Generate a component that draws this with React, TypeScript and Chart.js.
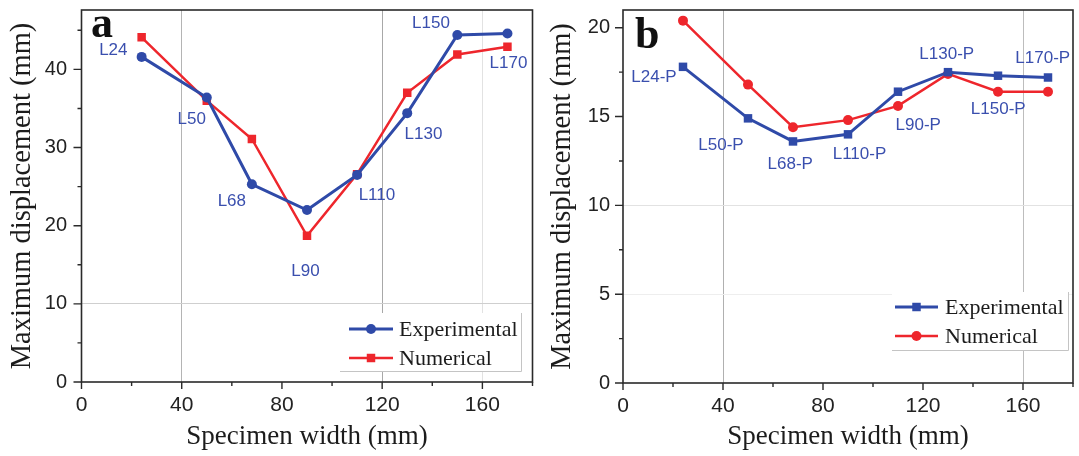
import React, { useEffect, useRef } from 'react';
import { Chart, registerables } from 'chart.js';

Chart.register(...registerables);

// ---------- data ----------
const widths = [24, 50, 68, 90, 110, 130, 150, 170];

const aExperimental = [41.6, 36.4, 25.3, 22.0, 26.5, 34.4, 44.4, 44.6];
const aNumerical = [44.1, 36.0, 31.1, 18.7, 26.6, 37.0, 41.9, 42.9];
const aLabels = ['L24', 'L50', 'L68', 'L90', 'L110', 'L130', 'L150', 'L170'];
const aLabelX = [12.7, 44.0, 60.0, 89.4, 117.9, 136.5, 139.5, 170.4];
const aLabelY = [42.5, 33.6, 23.1, 14.2, 23.9, 31.7, 45.9, 40.8];

const bExperimental = [17.8, 14.9, 13.6, 14.0, 16.4, 17.5, 17.3, 17.2];
const bNumerical = [20.4, 16.8, 14.4, 14.8, 15.6, 17.4, 16.4, 16.4];
const bLabels = ['L24-P', 'L50-P', 'L68-P', 'L110-P', 'L90-P', 'L130-P', 'L150-P', 'L170-P'];
const bLabelX = [12.4, 39.2, 66.9, 94.6, 118.1, 129.5, 150.1, 167.9];
const bLabelY = [17.2, 13.4, 12.3, 12.9, 14.5, 18.5, 15.4, 18.3];

const xTicksMajor = 40;
const xTicksMinor = 20;

// ---------- styles ----------
const BLUE = '#2f4aa8';
const RED = '#ee262c';
const LABEL_COLOR = '#3a4fae';
const TEXT = '#1c1c1c';
const SANS = '"Liberation Sans", Arial, sans-serif';
const SERIF = '"Liberation Serif", "Times New Roman", serif';

type Spec = {
  width: number;
  exp: number[];
  num: number[];
  expStyle: string;
  numStyle: string;
  labels: string[];
  labelX: number[];
  labelY: number[];
  yMax: number;
  yMajor: number;
  yMinor: number;
  yWidth: number;
  xHeight: number;
  rightPad: number;
  yTickPad: number;
  letter: string;
  letterX: number;
  letterY: number;
  xGrid: Record<number, string>;
  yGrid: Record<number, string>;
  legend: { x: number; y: number; w: number; h: number; lx0: number; lx1: number; tx: number; rows: number[] };
};

const near = (v: number, m: number) => Math.abs(v / m - Math.round(v / m)) < 1e-6;

const panelPlugin = {
  id: 'panel',
  afterDatasetsDraw(chart: any, _a: any, opts: any) {
    const s: Spec = opts.spec;
    const { ctx, scales } = chart;
    const x = scales.x;
    const y = scales.y;
    ctx.save();
    // point labels
    ctx.font = `17px ${SANS}`;
    ctx.fillStyle = LABEL_COLOR;
    ctx.textAlign = 'center';
    ctx.textBaseline = 'middle';
    s.labels.forEach((t, i) => {
      ctx.fillText(t, x.getPixelForValue(s.labelX[i]), y.getPixelForValue(s.labelY[i]));
    });
    // legend
    const L = s.legend;
    ctx.fillStyle = '#ffffff';
    ctx.fillRect(L.x, L.y, L.w, L.h);
    ctx.strokeStyle = '#c4c4c4';
    ctx.lineWidth = 1;
    ctx.beginPath();
    ctx.moveTo(L.x, L.y + L.h + 0.5);
    ctx.lineTo(L.x + L.w + 0.5, L.y + L.h + 0.5);
    ctx.lineTo(L.x + L.w + 0.5, L.y);
    ctx.stroke();
    chart.data.datasets.forEach((ds: any, i: number) => {
      const ry = L.rows[i];
      ctx.strokeStyle = ds.borderColor;
      ctx.lineWidth = ds.borderWidth;
      ctx.beginPath();
      ctx.moveTo(L.lx0, ry);
      ctx.lineTo(L.lx1, ry);
      ctx.stroke();
      const mx = (L.lx0 + L.lx1) / 2;
      ctx.fillStyle = ds.borderColor;
      ctx.beginPath();
      if (ds.pointStyle === 'rect') {
        const h = ds.pointRadius * Math.SQRT1_2;
        ctx.rect(mx - h, ry - h, 2 * h, 2 * h);
      } else {
        ctx.arc(mx, ry, ds.pointRadius, 0, Math.PI * 2);
      }
      ctx.fill();
      ctx.fillStyle = TEXT;
      ctx.font = `22px ${SERIF}`;
      ctx.textAlign = 'left';
      ctx.textBaseline = 'middle';
      ctx.fillText(ds.label, L.tx, ry + 1);
    });
    // panel letter
    ctx.fillStyle = '#111';
    ctx.font = `bold 44px ${SERIF}`;
    ctx.textAlign = 'left';
    ctx.textBaseline = 'alphabetic';
    ctx.fillText(s.letter, s.letterX, s.letterY);
    ctx.restore();
  },
  afterDraw(chart: any, _a: any, opts: any) {
    const s: Spec = opts.spec;
    const { ctx, chartArea: ca, scales } = chart;
    ctx.save();
    ctx.strokeStyle = '#2a2a2a';
    ctx.lineWidth = 1.4;
    // tick marks
    ctx.beginPath();
    scales.x.ticks.forEach((t: any) => {
      const v = t.value;
      let len = 0;
      if (near(v, xTicksMajor)) len = 7;
      else if (near(v, xTicksMinor)) len = 4;
      if (!len) return;
      const px = scales.x.getPixelForValue(v);
      ctx.moveTo(px, ca.bottom);
      ctx.lineTo(px, ca.bottom + len);
    });
    scales.y.ticks.forEach((t: any) => {
      const v = t.value;
      let len = 0;
      if (near(v, s.yMajor)) len = 8;
      else if (near(v, s.yMinor)) len = 4;
      if (!len) return;
      const py = scales.y.getPixelForValue(v);
      ctx.moveTo(ca.left - len, py);
      ctx.lineTo(ca.left, py);
    });
    ctx.stroke();
    // frame
    ctx.lineWidth = 1.6;
    ctx.strokeRect(ca.left, ca.top, ca.right - ca.left, ca.bottom - ca.top);
    ctx.restore();
  },
};

function buildConfig(s: Spec): any {
  const pts = (vals: number[]) => widths.map((w, i) => ({ x: w, y: vals[i] }));
  const mk = (label: string, vals: number[], color: string, style: string, lw: number) => ({
    label,
    data: pts(vals),
    borderColor: color,
    backgroundColor: color,
    borderWidth: lw,
    pointStyle: style,
    pointRadius: style === 'rect' ? 6 : 5,
    pointBorderWidth: 0,
    pointHoverRadius: style === 'rect' ? 6 : 5,
    tension: 0,
  });
  return {
    type: 'line',
    data: {
      datasets: [
        mk('Experimental', s.exp, BLUE, s.expStyle, 3),
        mk('Numerical', s.num, RED, s.numStyle, 2.5),
      ],
    },
    plugins: [panelPlugin],
    options: {
      responsive: false,
      animation: false,
      devicePixelRatio: 1,
      events: [],
      layout: { padding: { left: 0, right: s.rightPad, top: 10, bottom: 0 } },
      plugins: {
        legend: { display: false },
        tooltip: { enabled: false },
        panel: { spec: s },
      },
      scales: {
        x: {
          type: 'linear',
          min: 0,
          max: 180,
          afterFit: (sc: any) => {
            sc.height = s.xHeight;
            sc.paddingLeft = 0;
            sc.paddingRight = 0;
          },
          border: { display: false },
          grid: {
            drawTicks: false,
            lineWidth: 1,
            color: (c: any) => (c.tick && s.xGrid[c.tick.value]) || 'rgba(0,0,0,0)',
          },
          ticks: {
            stepSize: xTicksMinor,
            autoSkip: false,
            includeBounds: false,
            maxRotation: 0,
            padding: 11,
            color: '#222',
            font: { family: SANS, size: 21 },
            callback: (v: number) => (near(v, xTicksMajor) ? String(v) : ''),
          },
          title: {
            display: true,
            text: 'Specimen width (mm)',
            color: TEXT,
            font: { family: SERIF, size: 27, lineHeight: 1.2 },
            padding: { top: 0, bottom: 3 },
          },
        },
        y: {
          type: 'linear',
          min: 0,
          max: s.yMax,
          afterFit: (sc: any) => {
            sc.width = s.yWidth;
            sc.paddingTop = 0;
            sc.paddingBottom = 0;
          },
          border: { display: false },
          grid: {
            drawTicks: false,
            lineWidth: 1,
            color: (c: any) => (c.tick && s.yGrid[c.tick.value]) || 'rgba(0,0,0,0)',
          },
          ticks: {
            stepSize: s.yMinor,
            autoSkip: false,
            includeBounds: false,
            padding: s.yTickPad,
            color: '#222',
            font: { family: SANS, size: 20 },
            callback: (v: number) => (near(v, s.yMajor) ? String(v) : ''),
          },
          title: {
            display: true,
            text: 'Maximum displacement (mm)',
            color: TEXT,
            font: { family: SERIF, size: 28.5, lineHeight: 1.2 },
            padding: { top: 5, bottom: 0 },
          },
        },
      },
    },
  };
}

const specA: Spec = {
  width: 540,
  exp: aExperimental,
  num: aNumerical,
  expStyle: 'circle',
  numStyle: 'rect',
  labels: aLabels,
  labelX: aLabelX,
  labelY: aLabelY,
  yMax: 47.6,
  yMajor: 10,
  yMinor: 5,
  yWidth: 81.5,
  xHeight: 74,
  rightPad: 7.5,
  yTickPad: 14.5,
  letter: 'a',
  letterX: 91,
  letterY: 37,
  xGrid: { 40: '#b4b4b4', 120: '#a8a8a8', 160: '#e2e2e2' },
  yGrid: { 10: '#cfcfcf' },
  legend: { x: 340, y: 313, w: 181, h: 58, lx0: 349, lx1: 393, tx: 399, rows: [329, 358] },
};

const specB: Spec = {
  width: 539,
  exp: bExperimental,
  num: bNumerical,
  expStyle: 'rect',
  numStyle: 'circle',
  labels: bLabels,
  labelX: bLabelX,
  labelY: bLabelY,
  yMax: 21,
  yMajor: 5,
  yMinor: 2.5,
  yWidth: 83,
  xHeight: 73,
  rightPad: 1,
  yTickPad: 13,
  letter: 'b',
  letterX: 95,
  letterY: 48,
  xGrid: { 40: '#b0b0b0', 160: '#bdbdbd' },
  yGrid: { 10: '#e2e2e2', 5: '#eeeeee' },
  legend: { x: 352, y: 292, w: 176, h: 58, lx0: 355, lx1: 398, tx: 405, rows: [307, 336] },
};

function Panel({ spec, left }: { spec: Spec; left: number }) {
  const ref = useRef<HTMLCanvasElement | null>(null);
  useEffect(() => {
    if (!ref.current) return;
    const chart = new Chart(ref.current, buildConfig(spec));
    return () => chart.destroy();
  }, [spec]);
  return (
    <canvas
      ref={ref}
      width={spec.width}
      height={456}
      style={{ position: 'absolute', left, top: 0, width: spec.width, height: 456 }}
    />
  );
}

export default function App() {
  return (
    <div style={{ position: 'absolute', left: 0, top: 0, width: 1079, height: 456, background: '#fff', overflow: 'hidden' }}>
      <Panel spec={specA} left={0} />
      <Panel spec={specB} left={540} />
    </div>
  );
}
